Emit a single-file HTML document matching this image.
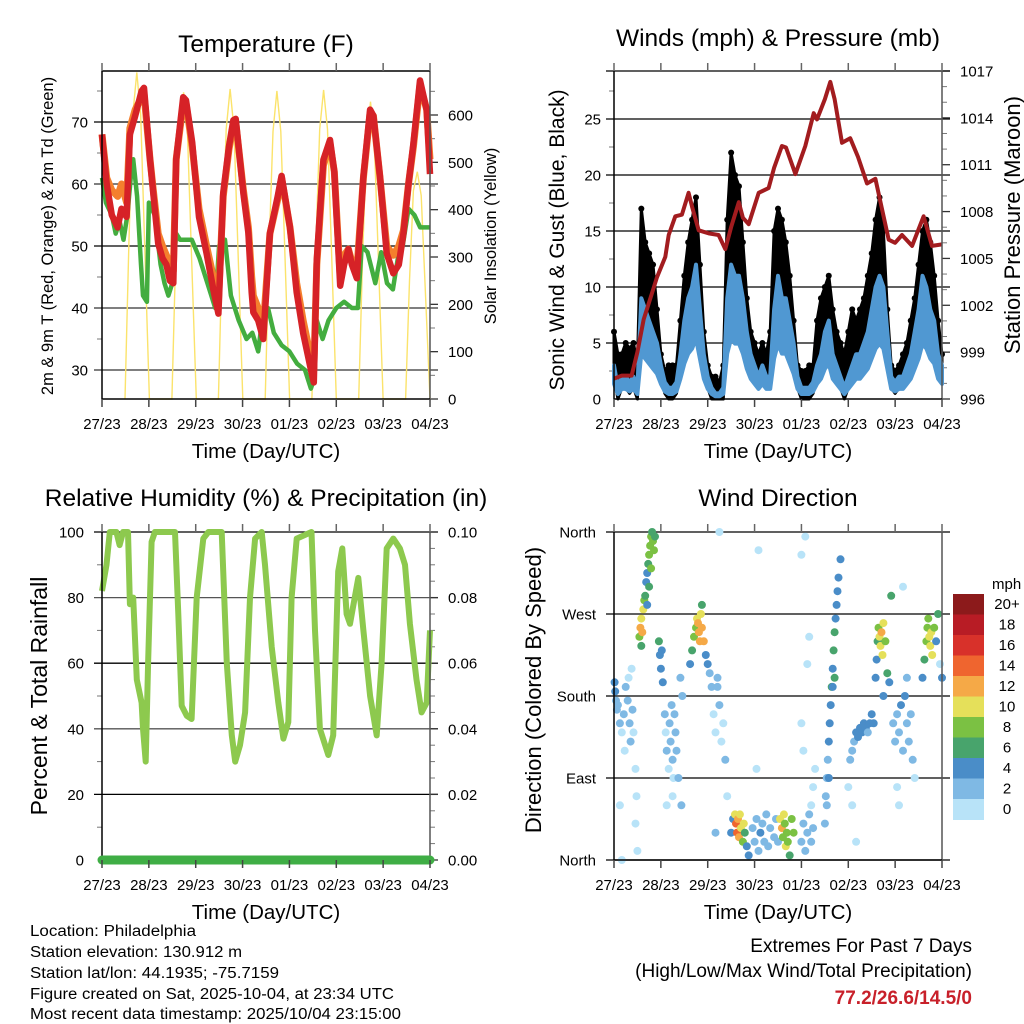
<!DOCTYPE html>
<html><head><meta charset="utf-8">
<style>
html,body{margin:0;padding:0;background:#fff;}
svg{display:block;font-family:"Liberation Sans",sans-serif;}
</style></head>
<body>
<svg id="root" width="1024" height="1024" viewBox="0 0 1024 1024" xmlns="http://www.w3.org/2000/svg">
<rect width="1024" height="1024" fill="#fff"/>
<g id="g1"></g>
<g id="g2"></g>
<g id="g3"></g>
<g id="g4"></g>
<g font-size="24.5" text-anchor="middle" fill="#000">
<text x="266" y="52">Temperature (F)</text>
<text x="778" y="46">Winds (mph) &amp; Pressure (mb)</text>
<text x="266" y="506">Relative Humidity (%) &amp; Precipitation (in)</text>
<text x="778" y="506">Wind Direction</text>
</g>
<g font-size="15.5" fill="#000">
<text x="30" y="936" textLength="166" lengthAdjust="spacingAndGlyphs">Location: Philadelphia</text>
<text x="30" y="957" textLength="212" lengthAdjust="spacingAndGlyphs">Station elevation: 130.912 m</text>
<text x="30" y="978" textLength="249" lengthAdjust="spacingAndGlyphs">Station lat/lon: 44.1935; -75.7159</text>
<text x="30" y="999" textLength="364" lengthAdjust="spacingAndGlyphs">Figure created on Sat, 2025-10-04, at 23:34 UTC</text>
<text x="30" y="1019" textLength="371" lengthAdjust="spacingAndGlyphs">Most recent data timestamp: 2025/10/04 23:15:00</text>
</g>
<g font-size="19" text-anchor="end">
<text x="972" y="952">Extremes For Past 7 Days</text>
<text x="972" y="977">(High/Low/Max Wind/Total Precipitation)</text>
<text x="972" y="1004" fill="#c8202a" font-weight="bold">77.2/26.6/14.5/0</text>
</g>
</svg>
<script>
// ---------- data ----------
const dayLabels = ["27/23","28/23","29/23","30/23","01/23","02/23","03/23","04/23"];
const tempTimes = [0,2.4,5,8,10,12.6,14.3,17,20.3,21.5,24.6,26.3,28.8,31,33,34.8,36.5,38,41.6,43,46.2,49.7,53.6,57,59.6,62.1,65,67.3,68.5,72.4,75,76.7,77.5,80,82.6,86,90,92,96.3,99.7,103,107.3,108.5,110,113.4,116.8,119,122,124,126.2,128,130.5,133.9,137.3,139,142.4,145.8,149.2,152,154.4,157,159.5,162.9,166.3,168];
const temp2m = [68,60,55,53,56,54.7,68,71,75,75.5,64,58.5,50.4,48,47,44.4,44,64,74,73.5,66.7,54.7,48.8,43,39.1,58.5,66,70.3,70.5,58.5,52.1,42.5,39.3,38,35,52,58,61.3,53,42.5,36,29.6,28,47.8,63.9,67.1,62,43.6,47,49.5,47,44.8,61.2,72,71,61.2,48.8,45.6,47,52,60,66.5,76.7,71.9,61.6];
const temp9m = [68,61,59,58,60,57,69,72,74,74.5,64,59,52,50,48.5,47,46,64,73,73,66,56,50,45,41,58,65.5,69.5,70,59,53,45,42,40,37,52,57.5,61,53,44,38,31.5,30,47,63,66.5,62,45,48.5,49.5,47.5,46,61,71.5,71,61,50,48.5,50,52.5,60,66,76,72,64];
const dewTimes = [0,2,5,7,9,11,13,15,16,18,20,21,23,24,27,30,32,34,36,38,40,42,46,50,55,58,60,62,63,66,70,74,77,80,82,85,88,92,96,100,104,107,108,110,113,116,120,124,128,131,133,136,140,143,146,149,152,154,157,160,163,168];
const dewPt = [61,57,55,52,54,51,55,62,64,58,47,42,41,57,55,47,44,42,44,52,51,51,51,48,43,40,50,51,51,42,38,35,36,33,38,40,36,34,33,31,30,27,28,38,35,38,40,41,40,40,50,49,44,49,44,43,49,50,56,55,53,53];
const solarTimes = [11.8,13.8,15.8,17.8,19.8,21.8,24.3, 35.8,37.8,39.8,41.8,43.8,45.8,48.3, 59.6,61.6,63.6,65.6,67.6,69.6,72.1, 83.6,85.6,87.6,89.6,91.6,93.6,96.1, 107.5,109.5,111.5,113.5,115.5,117.5,120, 131.5,133.5,135.5,137.5,139.5,141.5,144, 155.5,157.5,159.5,161.5,163.5,165.5,168];
const solarVals = [0,330,600,690,600,330,0, 0,310,560,648,560,310,0, 0,320,570,655,570,320,0, 0,320,565,651,565,320,0, 0,320,570,653,570,320,0, 0,300,540,628,540,300,0, 0,250,440,480,430,240,0];
const windTimes = [0,2,4,6,8,10,12,14,16,18,20,22,24,26,28,30,32,34,36,38,40,42,44,46,48,50,52,54,56,58,60,62,64,66,68,70,72,74,76,78,80,82,84,86,88,90,92,94,96,98,100,102,104,106,108,110,112,114,116,118,120,122,124,126,128,130,132,134,136,138,140,142,144,146,148,150,152,154,156,158,160,162,164,166,168];
const windSpd = [3,1,2,2,1.5,2,1,9,8,7,6,5,3,1.5,1,1,1.5,4,7,9,10,12,8,4,2,1,0.5,0.5,1,9,12,11,11,9,6,4,3,2,3,2,2,8,11,9,9,7,5,2,1,1,1,1.5,3,4,6,7,4,3,2,1,2,3,4,4,5,6,8,10,11,10,6,2,1.5,2,2,3,4,6,8,11,10,8,7,4,3];
const gustSpd = [6,4,4,5,4.5,5,3,17,14,13,12,8,4,2.5,3,3,3,7,11,14,16,18,12,6,3,2,2,1.5,3,16,22,20,19,14,9,6,5,4,5,4,6,15,17,16,14,11,7,3,2.5,2.5,3,3,7,9,10,11,8,6,5,4,6,8,7,8,9,11,13,16,18,15,8,3,2.5,3,4,5,7,9,12,15,16,14,11,7,4];
const presTimes = [0,4,9,12,15.2,19.5,22,26.3,28,31.4,34.8,38.2,40,43.4,48.5,53.6,57,60,63.9,66,69,74.1,79.2,82,86,88.1,92.9,98,102.3,104,108,110.8,113,116.8,121,125,129.6,133.9,140.7,144,147.5,152.7,158.6,162.9,168];
const pressure = [997.3,997.5,997.5,999,1001.1,1002.8,1003.8,1005.1,1006.5,1007.7,1007.8,1009.2,1008.3,1006.8,1006.6,1006.5,1005.6,1007.0,1008.6,1007.6,1007.2,1009.2,1009.5,1010.8,1012.2,1012.1,1010.4,1012.2,1014.3,1013.9,1015.2,1016.3,1015.2,1012.4,1012.7,1011.5,1009.8,1010.1,1006.2,1006.0,1006.5,1005.8,1007.7,1005.8,1005.9];
const rhTimes = [0,2.3,4,7.4,9,10.8,13.3,14.3,16,17.8,20.3,21,22.4,23.6,25.4,27.1,37.4,39.1,40.8,43.4,45.9,48.5,51.9,54.5,61.3,63.9,66.5,68.2,70.7,73.3,75.8,78.4,81.8,83.5,86.9,90.3,92.9,95.4,97.1,99.7,107.3,109.1,111.6,115.9,118.4,121,123.1,125.3,127,131.3,133.9,137.3,140.7,143.2,145.8,149.2,152.6,155.2,157.7,161.1,163.7,166.3,168];
const rhVals = [82,90,100,100,96,100,100,78,80,55,48,40,30,60,97,100,100,75,47,44,43,80,98,100,100,60,38,30,35,45,80,98,100,90,65,48,37,42,80,98,100,70,40,32,38,88,95,75,72,86,70,50,38,60,95,98,95,90,72,55,45,48,70];
const precipTimes = [0,168];
const precipVals = [0,0];
const dirHours = [0.3,0.6,1,1.5,2, 3,4,5,5.5,6,7,7.5,8,8.5,9,9.5,10,11,11.5,11,12,3,4,
 13,13.5,14,14.5,15,14,15.5, 16,16.5,17,17.5,18,18.5,19,19.5,20,18,17,19,20.5,21,
 23,23.5,24,24.5,25, 26,26.5,27,28,28.5,29,29.5,30,30.5,31,31.5,32,33,34,34.5,35,27,30,
 39,40,41,42,42.5,43,43.5,44,44.5,45,46,47,48,49,45,
 50,51,52,53,54,55,56,57,58,53,54,52,
 60,61,62,62.5,63,63.5,64,64.5,65,66,66.5,67,68,69,
 71,72,73,74,75,76,77,78,79,80,82,83,84,73,74,
 85,86,86.5,87,87.5,88,88.5,89,90,91,92,
 96,97,98,99,100,101,102,103,97,96,99,100,96,98,101,102,
 108,108.5,109,109.5,110,110.5,111,111.5,112,112.5,113,113.5,114,114.5,115,116,110,109,112,113,
 120,121,122,123,124,125,126,127,128,129,130,131,132,133,122,124,
 134,134.5,135,135.5,136,136.5,137,137.5,138,139,140,141,142,138,
 143,144,145,146,147,148,149,150,151,152,153,154,146,145,148,150,
 158,159,160,160.5,161,161.5,162,162.5,163,164,165,166,167,168];
const dirDegs = [195,185,175,165,170, 150,140,160,120,190,175,200,150,130,210,165,140,100,70,40,10,60,0,
 245,255,265,250,275,235,285, 290,305,315,325,335,345,355,360,350,300,280,320,340,355,
 240,225,210,230,195, 160,140,120,100,150,130,170,110,90,160,140,120,90,200,60,180,60,70,
 215,230,245,255,265,260,250,240,270,255,240,225,215,205,280,
 190,160,140,200,170,130,150,110,70,190,360,30,
 30,45,50,40,30,45,25,50,35,20,40,30,15,5,
 35,20,45,10,30,40,20,50,15,35,25,45,20,100,340,
 45,35,25,50,40,15,30,20,5,45,30,
 20,40,10,30,50,60,80,100,120,150,215,245,335,355,20,35,
 40,70,90,110,130,150,170,190,210,230,250,265,280,295,310,330,90,60,190,200,
 80,110,120,130,140,135,145,140,150,145,140,150,160,150,60,20,
 200,220,240,255,245,235,250,225,260,240,205,195,290,180,
 150,130,160,140,170,120,180,150,130,160,110,90,60,80,300,200,
 200,220,240,255,265,245,235,250,225,255,240,270,215,200];
const dirSpeeds = [4,4,3,3,3, 2,1,2,1,2,2,1,2,2,1,2,1,1,1,1,1,1,1,
 9,12,11,13,10,7,8, 6,5,4,7,8,8,8,7,8,7,5,9,8,7,
 6,4,4,5,4, 2,1,2,1,2,3,2,2,1,3,2,3,2,2,2,3,1,1,
 4,6,8,9,10,12,13,12,10,13,12,4,4,3,6,
 2,1,1,2,2,1,1,2,1,2,1,2,
 4,4,10,14,15,12,13,11,10,8,10,6,4,4,
 3,3,3,2,4,3,2,3,2,3,3,2,3,1,1,
 10,12,9,11,8,10,8,9,7,8,9,
 2,3,2,2,2,1,1,1,1,1,1,1,1,1,3,2,
 2,2,2,3,4,4,4,6,5,6,6,5,4,4,4,4,4,3,4,6,
 1,2,2,3,4,4,4,5,4,4,3,4,4,4,1,1,
 4,5,6,8,10,11,12,10,10,8,6,4,7,4,
 2,2,3,3,4,2,4,3,2,3,2,1,1,1,1,2,
 4,6,8,9,8,10,11,10,10,8,4,6,1,4];
const speedBinLabels = ["0","2","4","6","8","10","12","14","16","18","20+"];
const speedBinColors = ["#b8e3f8","#7fb9e4","#4a8dc8","#48a46c","#7bc143","#e5e05a","#f5a947","#ef652f","#d8312a","#b81c25","#8c1a1b"];

// ---------- helpers ----------
const NS = "http://www.w3.org/2000/svg";
function mk(parent, tag, attrs, txt){
  const e = document.createElementNS(NS, tag);
  for (const k in attrs) e.setAttribute(k, attrs[k]);
  if (txt !== undefined) e.textContent = txt;
  parent.appendChild(e);
  return e;
}
function xScale(x0, x1){ return h => x0 + h * (x1 - x0) / 168; }
function yScale(v0, v1, p0, p1){ return v => p0 + (v - v0) * (p1 - p0) / (v1 - v0); }
function pts(ts, vs, xs, ys){ return ts.map((t,i)=> xs(t).toFixed(1)+","+ys(vs[i]).toFixed(1)).join(" "); }

function frame(g, x0, x1, y0, y1, showTop){
  const xs = xScale(x0, x1);
  for (let d=0; d<=7; d++){
    const x = xs(d*24);
    const t = mk(g,"line",{x1:x,x2:x,y1:y1,y2:y1+8,stroke:"#444","stroke-width":1.5});
    
    
    if (showTop){
      const t2 = mk(g,"line",{x1:x,x2:x,y1:y0-8,y2:y0,stroke:"#666","stroke-width":1.5});
      
      
    }
    const l = mk(g,"text",{x:x,y:y1+30,"font-size":15,"text-anchor":"middle"}, dayLabels[d]);
    
    
  }
  const tt = mk(g,"text",{x:(x0+x1)/2,y:y1+59,"font-size":20.5,"text-anchor":"middle"},"Time (Day/UTC)");
  
  
}
function border(g, x0, x1, y0, y1, top){
  const a = mk(g,"line",{x1:x0,x2:x0,y1:y0,y2:y1,stroke:"#000","stroke-width":1.5});
  
  
  const b = mk(g,"line",{x1:x1,x2:x1,y1:y0,y2:y1,stroke:"#555","stroke-width":1.5});
  
  
  const c = mk(g,"line",{x1:x0,x2:x1,y1:y1,y2:y1,stroke:"#000","stroke-width":1.5});
  
  
  if (top){
    const d = mk(g,"line",{x1:x0,x2:x1,y1:y0,y2:y0,stroke:"#000","stroke-width":1.5});
    
    
  }
}
function hgrid(g, y, x0, x1, col){
  const l = mk(g,"line",{x1:x0-8,x2:x1+8,y1:y,y2:y,stroke:col||"#000","stroke-width":1.3});
  
  
}
function ylab(g, x, y, txt, anchor, name){
  const t = mk(g,"text",{x:x,y:y+5.5,"font-size":15,"text-anchor":anchor},txt);
  
  
}
function vtitle(g, x, y, txt, size, name){
  const t = mk(g,"text",{x:0,y:0,"font-size":size,"text-anchor":"middle",transform:`translate(${x},${y}) rotate(-90)`},txt);
  
  
}
function minor(g, x, y, dir){
  const m = mk(g,"line",{x1:x,x2:x+dir*5,y1:y,y2:y,stroke:"#777","stroke-width":1});
  
  
}

// ---------- Panel 1: temperature ----------
(function(){
  const g = document.getElementById("g1");
  const X0=102,X1=430,Y0=71,Y1=399;
  const xs = xScale(X0,X1);
  const ys = yScale(70,30,122,370);
  const ss = yScale(0,600,399,115);
  for (let v=30; v<=70; v+=10){ hgrid(g, ys(v), X0, X1, v<=40||v==60?"#333":"#000"); ylab(g, 88, ys(v), String(v), "end", "y-tick-label-left"); }
  for (let v=30; v<=75; v+=5) if (v%10) minor(g, X0, ys(v), -1);
  for (let v=0; v<=600; v+=100){ ylab(g, 448, ss(v), String(v), "start", "y-tick-label-right"); const t=mk(g,"line",{x1:X1,x2:X1+8,y1:ss(v),y2:ss(v),stroke:"#333","stroke-width":1.3});   }
  for (let v=50; v<=650; v+=50) if (v%100) minor(g, X1, ss(v), 1);
  const sol = mk(g,"polyline",{points:pts(solarTimes,solarVals,xs,ss),fill:"none",stroke:"#fbe36b","stroke-width":1.4});
  
  
  const dw = mk(g,"polyline",{points:pts(dewTimes,dewPt,xs,ys),fill:"none",stroke:"#43ad3f","stroke-width":4.5,"stroke-linejoin":"round"});
  
  
  const o = mk(g,"polyline",{points:pts(tempTimes,temp9m,xs,ys),fill:"none",stroke:"#f47f2d","stroke-width":7,"stroke-linejoin":"round"});
  
  
  const r = mk(g,"polyline",{points:pts(tempTimes,temp2m,xs,ys),fill:"none",stroke:"#d62227","stroke-width":6.5,"stroke-linejoin":"round"});
  
  
  border(g,X0,X1,Y0,Y1,true);
  frame(g,X0,X1,Y0,Y1,true);
  vtitle(g, 53, 236, "2m & 9m T (Red, Orange) & 2m Td (Green)", 16.5, "y-axis-title-left");
  vtitle(g, 496, 236, "Solar Insolation (Yellow)", 16.5, "y-axis-title-right");
})();

// ---------- Panel 2: winds ----------
(function(){
  const g = document.getElementById("g2");
  const X0=614,X1=942,Y0=71,Y1=399;
  const xs = xScale(X0,X1);
  const ys = yScale(0,25,399,119);
  const ps = yScale(996,1017,399,71);
  for (let v=5; v<=25; v+=5){ hgrid(g, ys(v), X0, X1); }
  for (let v=0; v<=25; v+=5) ylab(g, 601, ys(v), String(v), "end", "y-tick-label-left");
  for (let v=2.5; v<=27.5; v+=5) minor(g, X0, ys(v), -1);
  for (let v=996; v<=1017; v+=3){ ylab(g, 960, ps(v), String(v), "start", "y-tick-label-right"); const t=mk(g,"line",{x1:X1,x2:X1+8,y1:ps(v),y2:ps(v),stroke:"#333","stroke-width":1.3});   }
  for (let v=997; v<=1016; v++) if ((v-996)%3) minor(g, X1, ps(v), 1);
  hgrid(g, Y0, X0, X1);
  const up = windTimes.map((t,i)=> xs(t).toFixed(1)+","+ys(gustSpd[i]).toFixed(1));
  const dn = windTimes.map((t,i)=> xs(t).toFixed(1)+","+ys(Math.max(0,windSpd[i]-1)).toFixed(1)).reverse();
  const band = mk(g,"polygon",{points:up.concat(dn).join(" "),fill:"#000",stroke:"#000","stroke-width":3,"stroke-linejoin":"round"});
  
  
  windTimes.forEach((t,i)=>{
    const c = mk(g,"circle",{cx:xs(t),cy:ys(gustSpd[i]),r:3,fill:"#000"});
    
    
  });
  const wl = windTimes.map((t,i)=> xs(t).toFixed(1)+","+ys(windSpd[i]).toFixed(1));
  const wb = windTimes.map((t,i)=> xs(t).toFixed(1)+","+ys(Math.max(0,windSpd[i]*0.45)).toFixed(1)).reverse();
  const wf = mk(g,"polygon",{points:wl.concat(wb).join(" "),fill:"#5098d2",stroke:"#5098d2","stroke-width":4,"stroke-linejoin":"round"});
  
  
  const p = mk(g,"polyline",{points:pts(presTimes,pressure,xs,ps),fill:"none",stroke:"#a21c1f","stroke-width":4,"stroke-linejoin":"round"});
  
  
  border(g,X0,X1,Y0,Y1,false);
  frame(g,X0,X1,Y0,Y1,true);
  vtitle(g, 564, 240, "Sonic Wind & Gust (Blue, Black)", 21, "y-axis-title-left");
  vtitle(g, 1020, 225, "Station Pressure (Maroon)", 22, "y-axis-title-right");
})();

// ---------- Panel 3: humidity ----------
(function(){
  const g = document.getElementById("g3");
  const X0=102,X1=430,Y0=532,Y1=860;
  const xs = xScale(X0,X1);
  const ys = yScale(0,100,860,532);
  const ps = yScale(0,0.1,860,532);
  for (let v=20; v<=100; v+=20) hgrid(g, ys(v), X0, X1, (v==40||v==80)?"#555":"#000");
  for (let v=0; v<=100; v+=20) ylab(g, 84, ys(v), String(v), "end", "y-tick-label-left");
  for (let v=10; v<=90; v+=20) minor(g, X0, ys(v), -1);
  for (let i=0;i<=5;i++){ const v=i*0.02; ylab(g, 448, ps(v), v.toFixed(2), "start", "y-tick-label-right"); const t=mk(g,"line",{x1:X1,x2:X1+8,y1:ps(v),y2:ps(v),stroke:"#333","stroke-width":1.3});   }
  for (let i=1;i<20;i++) if (i%4) minor(g, X1, ps(i*0.005), 1);
  const rh = mk(g,"polyline",{points:pts(rhTimes,rhVals,xs,ys),fill:"none",stroke:"#8dc94e","stroke-width":6,"stroke-linejoin":"round"});
  
  
  border(g,X0,X1,Y0,Y1,false);
  const pr = mk(g,"polyline",{points:pts(precipTimes,precipVals,xs,ps),fill:"none",stroke:"#3fae45","stroke-width":9,"stroke-linecap":"round"});
  
  
  frame(g,X0,X1,Y0,Y1,true);
  vtitle(g, 47, 696, "Percent & Total Rainfall", 23, "y-axis-title-left");
})();

// ---------- Panel 4: wind direction ----------
(function(){
  const g = document.getElementById("g4");
  const X0=614,X1=942,Y0=532,Y1=860;
  const xs = xScale(X0,X1);
  const ys = yScale(0,360,860,532);
  const names = ["North","East","South","West","North"];
  for (let i=0;i<=4;i++){ hgrid(g, ys(i*90), X0, X1, "#000"); ylab(g, 596, ys(i*90), names[i], "end", "direction-label"); }
  dirHours.forEach((h,i)=>{
    const bin = Math.min(10, Math.max(0, Math.floor(dirSpeeds[i]/2)));
    const c = mk(g,"circle",{cx:xs(h).toFixed(1),cy:ys(dirDegs[i]).toFixed(1),r:4,fill:speedBinColors[bin]});
    
    
  });
  border(g,X0,X1,Y0,Y1,false);
  frame(g,X0,X1,Y0,Y1,true);
  vtitle(g, 541, 690, "Direction (Colored By Speed)", 22, "y-axis-title-left");
  const cbTop=594, bh=20.5;
  const mph = mk(g,"text",{x:992,y:589,"font-size":15},"mph");
  
  
  for (let i=0;i<11;i++){
    const bin = 10-i;
    const r = mk(g,"rect",{x:953,y:cbTop+i*bh,width:31,height:bh+0.5,fill:speedBinColors[bin]});
    
    
    const t = mk(g,"text",{x:1007,y:cbTop+i*bh+15,"font-size":15,"text-anchor":"middle"},speedBinLabels[bin]);
    
    
  }
})();
</script>
</body></html>
